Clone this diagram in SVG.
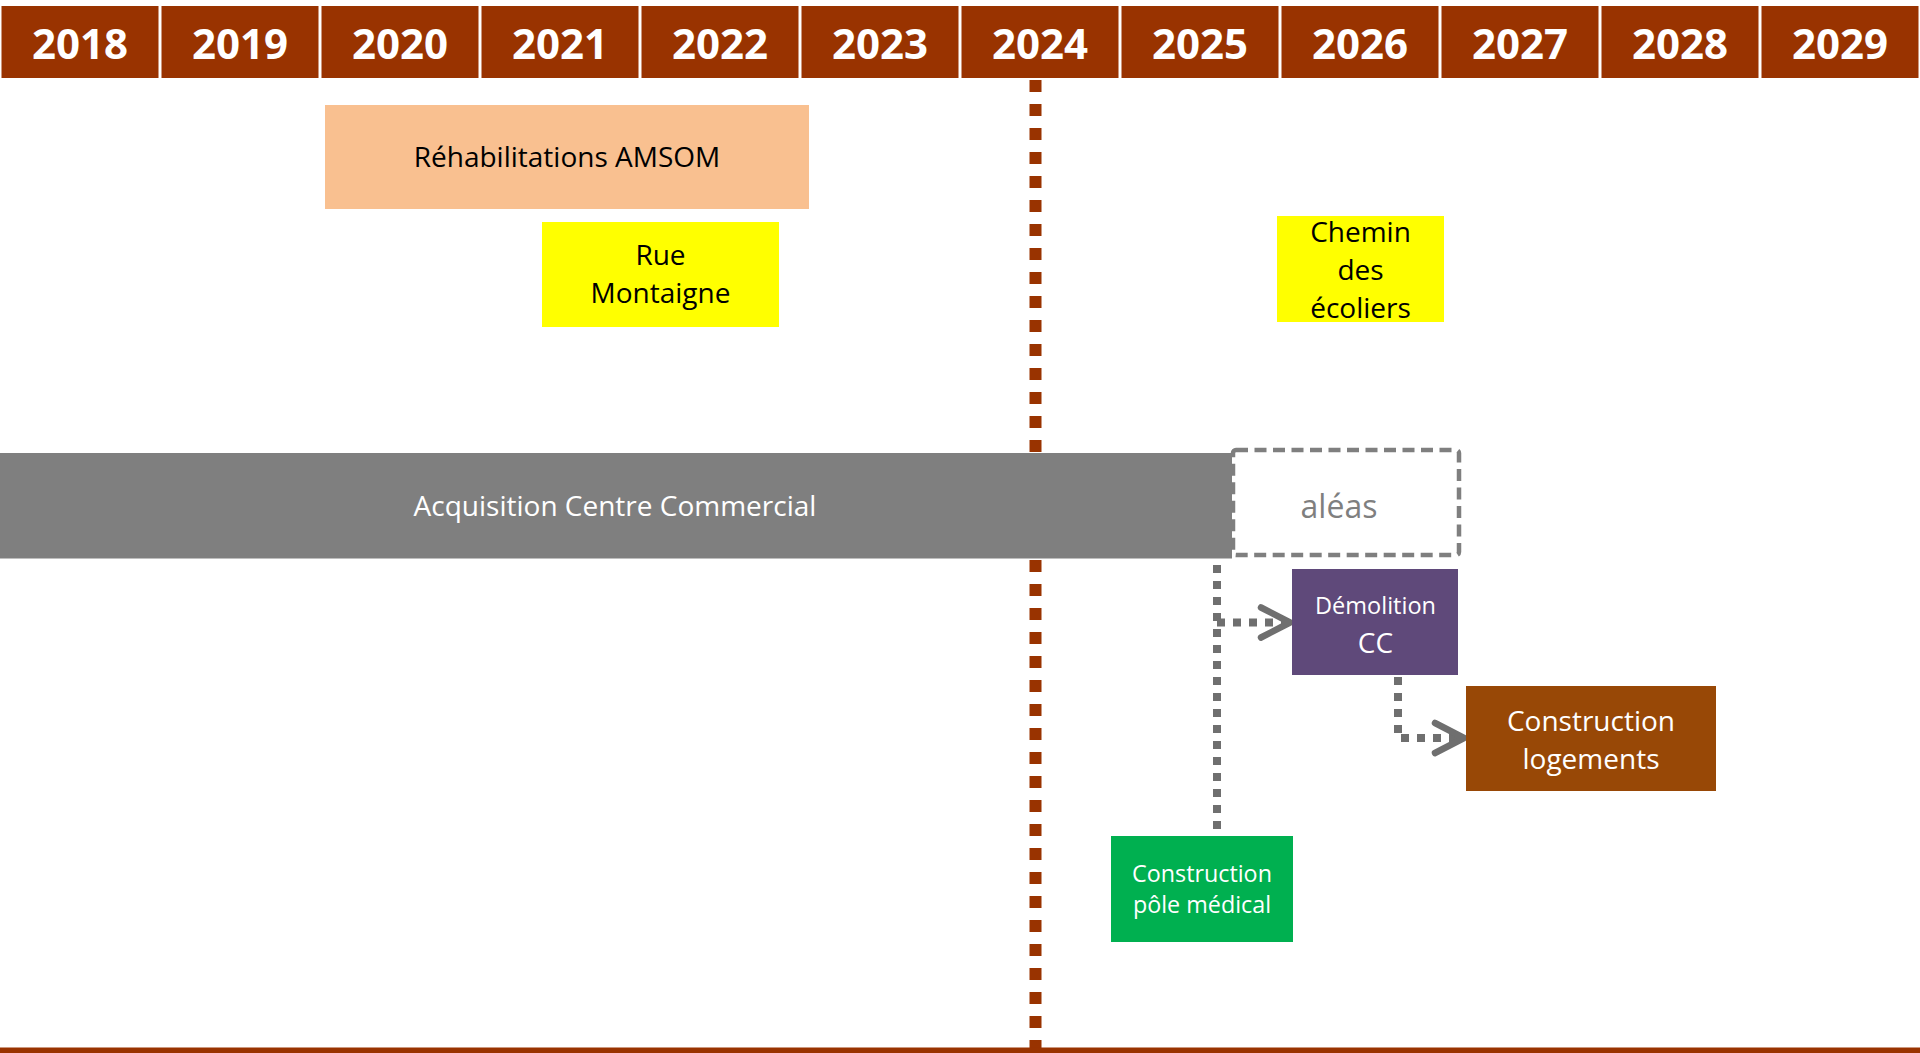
<svg xmlns="http://www.w3.org/2000/svg" width="1920" height="1053" viewBox="0 0 1920 1053">
  <style>
    text { font-family: "Open Sans", "Liberation Sans", sans-serif; text-anchor: middle; }
    .yr { fill: #993300; }
    .yrt { fill: #ffffff; font-weight: bold; font-size: 42px; }
    .t27 { font-size: 28px; }
    .blk { fill: #000000; }
    .wht { fill: #ffffff; }
    .conn { fill: none; stroke: #6F6F6F; stroke-width: 8; stroke-dasharray: 8 8; }
  </style>
  <defs>
    <marker id="chev" markerUnits="userSpaceOnUse" viewBox="-36 -20 40 40" refX="0" refY="0" markerWidth="40" markerHeight="40" orient="auto" overflow="visible">
      <path d="M-29,-15 L0,0 L-29,15" fill="none" stroke="#6F6F6F" stroke-width="6.5" stroke-linecap="round" stroke-linejoin="round" stroke-dasharray="none"/>
    </marker>
  </defs>
  <rect x="0" y="0" width="1920" height="1053" fill="#ffffff"/>

  <g id="header">
    <rect class="yr" x="1.5" y="6" width="157" height="72"/>
    <rect class="yr" x="161.5" y="6" width="157" height="72"/>
    <rect class="yr" x="321.5" y="6" width="157" height="72"/>
    <rect class="yr" x="481.5" y="6" width="157" height="72"/>
    <rect class="yr" x="641.5" y="6" width="157" height="72"/>
    <rect class="yr" x="801.5" y="6" width="157" height="72"/>
    <rect class="yr" x="961.5" y="6" width="157" height="72"/>
    <rect class="yr" x="1121.5" y="6" width="157" height="72"/>
    <rect class="yr" x="1281.5" y="6" width="157" height="72"/>
    <rect class="yr" x="1441.5" y="6" width="157" height="72"/>
    <rect class="yr" x="1601.5" y="6" width="157" height="72"/>
    <rect class="yr" x="1761.5" y="6" width="157" height="72"/>
    <text class="yrt" x="80" y="59">2018</text>
    <text class="yrt" x="240" y="59">2019</text>
    <text class="yrt" x="400" y="59">2020</text>
    <text class="yrt" x="560" y="59">2021</text>
    <text class="yrt" x="720" y="59">2022</text>
    <text class="yrt" x="880" y="59">2023</text>
    <text class="yrt" x="1040" y="59">2024</text>
    <text class="yrt" x="1200" y="59">2025</text>
    <text class="yrt" x="1360" y="59">2026</text>
    <text class="yrt" x="1520" y="59">2027</text>
    <text class="yrt" x="1680" y="59">2028</text>
    <text class="yrt" x="1840" y="59">2029</text>
  </g>

  <g id="today-line">
    <line x1="1035.5" y1="80" x2="1035.5" y2="1048" stroke="#993300" stroke-width="12" stroke-dasharray="12 12"/>
  </g>
  <g id="bottom-line">
    <rect x="0" y="1047.5" width="1920" height="6" fill="#993300"/>
  </g>

  <g id="rehabilitations">
    <rect x="325" y="105" width="484" height="104" fill="#F9C090"/>
    <text class="t27 blk" x="567" y="167">Réhabilitations AMSOM</text>
  </g>

  <g id="rue-montaigne">
    <rect x="542" y="222" width="237" height="105" fill="#FFFF00"/>
    <text class="t27 blk" x="660.5" y="265">Rue</text>
    <text class="t27 blk" x="660.5" y="303">Montaigne</text>
  </g>

  <g id="chemin-ecoliers">
    <rect x="1277" y="216" width="167" height="106" fill="#FFFF00"/>
    <text class="t27 blk" x="1360.5" y="242">Chemin</text>
    <text class="t27 blk" x="1360.5" y="280">des</text>
    <text class="t27 blk" x="1360.5" y="318">écoliers</text>
  </g>

  <g id="acquisition">
    <rect x="0" y="453" width="1232" height="105.5" fill="#7F7F7F"/>
    <text class="t27 wht" x="615" y="516">Acquisition Centre Commercial</text>
  </g>

  <g id="aleas">
    <rect x="1233" y="450" width="226" height="105" rx="3" fill="none" stroke="#7F7F7F" stroke-width="4.5" stroke-dasharray="12 6.5"/>
    <text x="1339" y="518" font-size="32" fill="#7F7F7F">aléas</text>
  </g>

  <g id="connectors">
    <path class="conn" d="M1217,565 V836"/>
    <path class="conn" d="M1217,622.5 H1290" marker-end="url(#chev)"/>
    <path class="conn" d="M1398,677 V738 H1464" marker-end="url(#chev)"/>
  </g>

  <g id="demolition">
    <rect x="1292" y="569" width="166" height="106" fill="#5F497A"/>
    <text class="wht" x="1375.5" y="614" font-size="23.5">Démolition</text>
    <text class="wht" x="1375.5" y="653" font-size="28">CC</text>
  </g>

  <g id="construction-logements">
    <rect x="1466" y="686" width="250" height="105" fill="#984806"/>
    <text class="t27 wht" x="1591" y="731">Construction</text>
    <text class="t27 wht" x="1591" y="769">logements</text>
  </g>

  <g id="pole-medical">
    <rect x="1111" y="836" width="182" height="106" fill="#00B050"/>
    <text class="wht" x="1202" y="882" font-size="23.3">Construction</text>
    <text class="wht" x="1202" y="913" font-size="23.3">pôle médical</text>
  </g>
</svg>
